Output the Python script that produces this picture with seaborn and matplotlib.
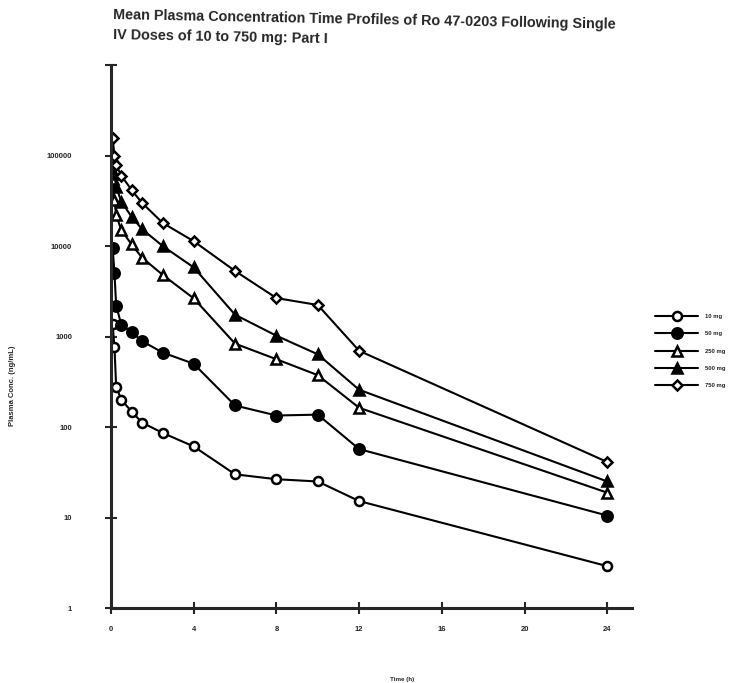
import matplotlib
matplotlib.use("Agg")
import matplotlib.pyplot as plt
import seaborn as sns
import pandas as pd
from matplotlib.ticker import NullLocator

# Sampling times (h) and mean plasma concentrations (ng/mL) per dose group
times = [0.08, 0.17, 0.25, 0.5, 1, 1.5, 2.5, 4, 6, 8, 10, 12, 24]
dose_labels = ["10 mg", "50 mg", "250 mg", "500 mg", "750 mg"]
conc_10 = [1360, 760, 280, 200, 148, 112, 86, 61, 30, 26.5, 25, 15.2, 2.9]
conc_50 = [9500, 5000, 2200, 1350, 1120, 890, 665, 500, 173, 134, 137, 57, 10.5]
conc_250 = [55000, 32000, 22000, 15000, 10400, 7450, 4800, 2640, 834, 561, 374, 163, 18.8]
conc_500 = [95000, 62000, 45000, 31000, 21000, 15400, 10000, 5800, 1740, 1020, 636, 258, 25]
conc_750 = [155000, 100000, 78000, 60000, 41500, 30000, 18000, 11300, 5300, 2660, 2230, 695, 41]

x_ticks = [0, 4, 8, 12, 16, 20, 24]
x_tick_labels = ["0", "4", "8", "12", "16", "20", "24"]
y_ticks = [1, 10, 100, 1000, 10000, 100000, 1000000]
y_tick_labels = ["1", "10", "100", "1000", "10000", "100000", ""]

title_1 = "Mean Plasma Concentration Time Profiles of Ro 47-0203 Following Single"
title_2 = "IV Doses of 10 to 750 mg: Part I"

rows = []
for lab, vals in zip(dose_labels, [conc_10, conc_50, conc_250, conc_500, conc_750]):
    for t, c in zip(times, vals):
        rows.append({"time": t, "conc": c, "dose": lab})
df = pd.DataFrame(rows)

sns.set_style("ticks")
plt.rcParams["font.family"] = ["Liberation Sans", "DejaVu Sans"]

# marker, face colour, size per dose group
styles = {
    "10 mg": ("o", "white", 6.5),
    "50 mg": ("o", "black", 7.5),
    "250 mg": ("^", "white", 7),
    "500 mg": ("^", "black", 7.5),
    "750 mg": ("D", "white", 5.5),
}

fig = plt.figure(figsize=(7.32, 6.83), dpi=100)
ax = fig.add_axes([0.1516, 0.1098, 0.712, 0.795])

for lab in dose_labels:
    m, fc, ms = styles[lab]
    sub = df[df["dose"] == lab]
    sns.lineplot(data=sub, x="time", y="conc", ax=ax, color="black",
                 linewidth=1.5, marker=m, markersize=ms,
                 markerfacecolor=fc, markeredgecolor="black",
                 markeredgewidth=1.8, label=lab)

ax.set_yscale("log")
ax.set_ylim(1, 1e6)
ax.set_xlim(0, 25.2)
ax.set_xticks(x_ticks)
ax.set_xticklabels(x_tick_labels)
ax.set_yticks(y_ticks)
ax.set_yticklabels(y_tick_labels)
ax.yaxis.set_minor_locator(NullLocator())

for s in ["top", "right"]:
    ax.spines[s].set_visible(False)
for s in ["left", "bottom"]:
    ax.spines[s].set_linewidth(2.2)

ax.tick_params(axis="both", direction="inout", length=8, width=1.5,
               labelsize=5.5)
ax.tick_params(axis="y", pad=24)
ax.tick_params(axis="x", pad=9)
for t in ax.get_xticklabels() + ax.get_yticklabels():
    t.set_fontweight("bold")

ax.set_xlabel("Time (h)", fontsize=4.5, fontweight="bold")
ax.set_ylabel("Plasma Conc. (ng/mL)", fontsize=5.5, fontweight="bold")
ax.xaxis.set_label_coords(0.559, -0.127)
ax.yaxis.set_label_coords(-0.182, 0.41)

handles, labels = ax.get_legend_handles_labels()
ax.legend(handles, labels, loc="center left",
          bbox_to_anchor=(655 / 732, 1 - 351 / 683),
          bbox_transform=fig.transFigure, frameon=False,
          prop={"size": 4.2, "weight": "bold"}, handlelength=7.4,
          handletextpad=1.2, labelspacing=2.1, borderpad=0,
          borderaxespad=0)

fig.text(113 / 732, 1 - 15 / 683, title_1, rotation=-1.1,
         rotation_mode="anchor", ha="left", va="center",
         fontsize=10.4, fontweight="bold")
fig.text(113 / 732, 1 - 35 / 683, title_2, rotation=-1.1,
         rotation_mode="anchor", ha="left", va="center",
         fontsize=10.4, fontweight="bold")

fig.savefig("out.png", dpi=100)
